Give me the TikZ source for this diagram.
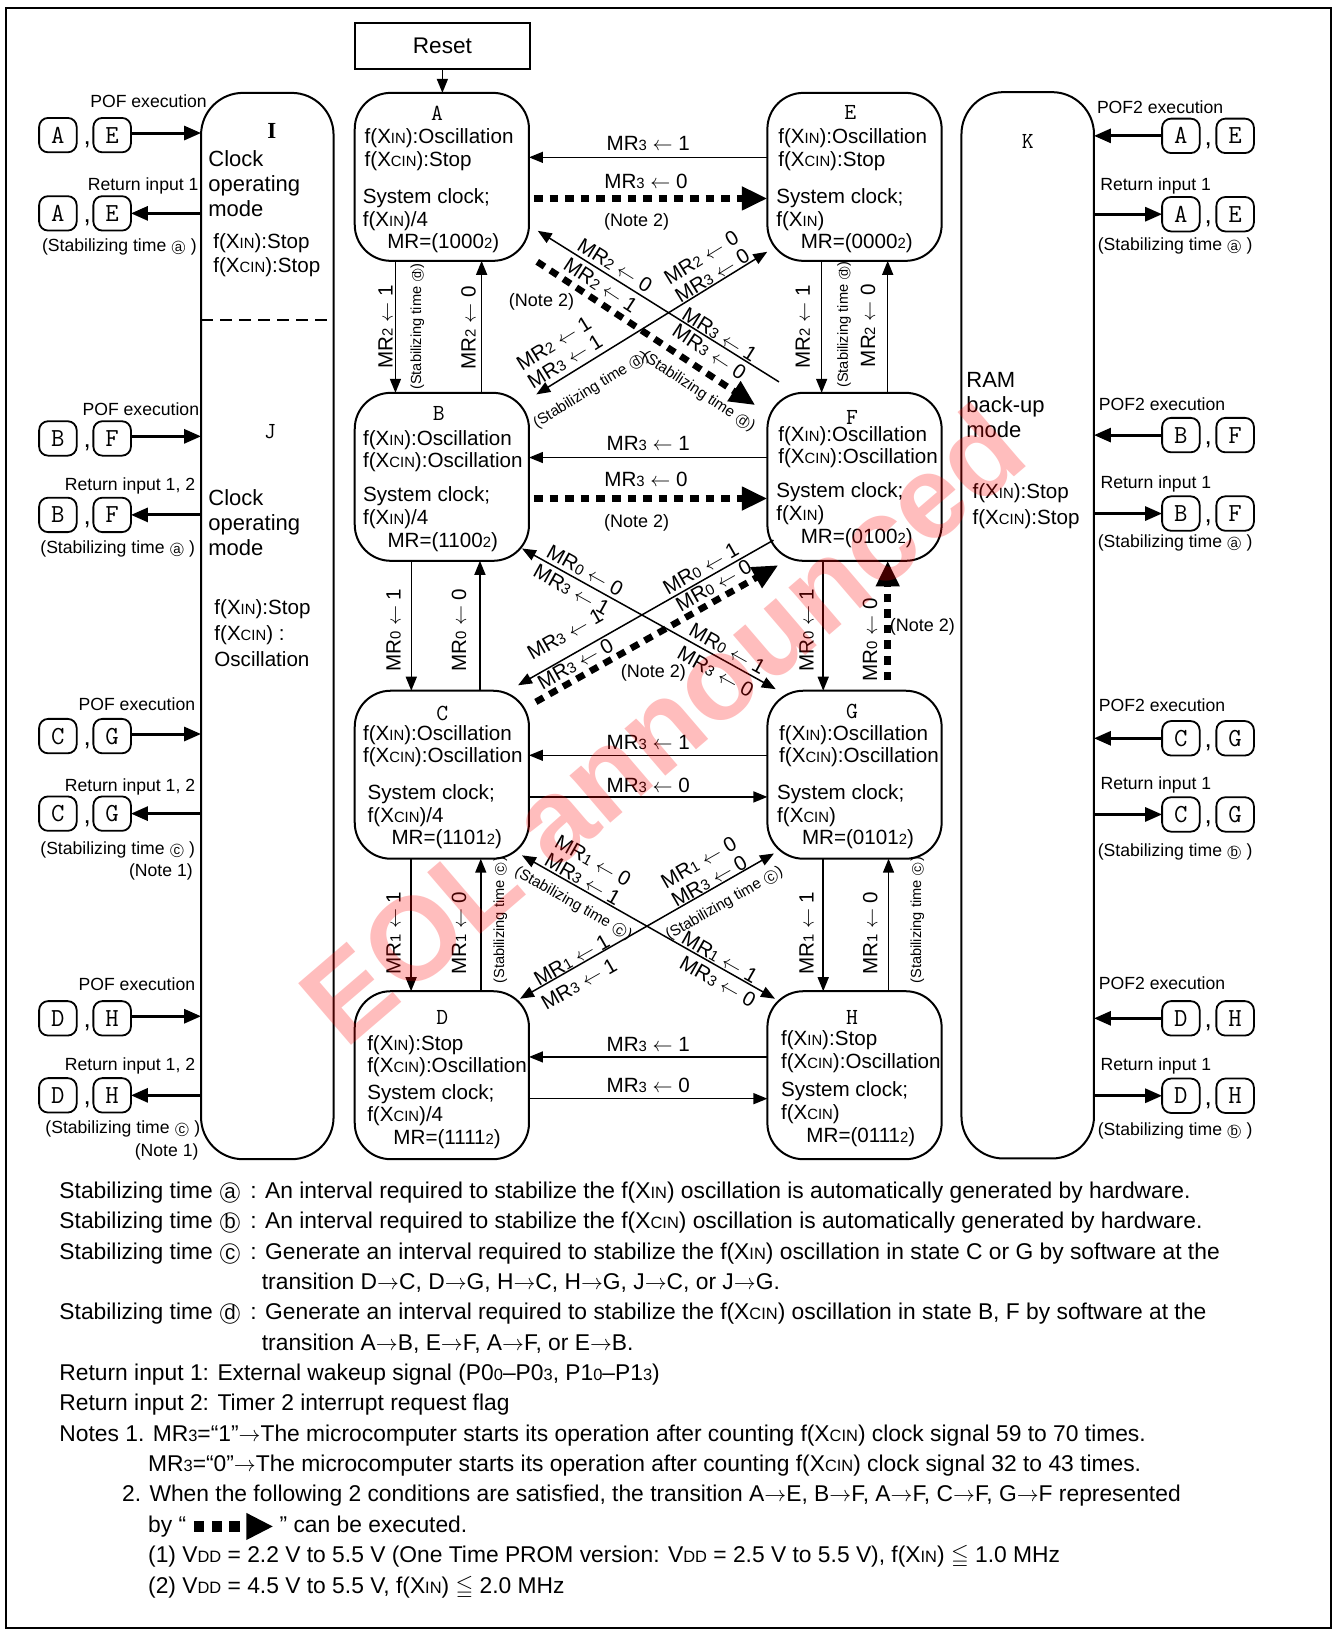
\documentclass[tikz,border=0pt]{standalone}
\usepackage{fontspec}
\usepackage{amssymb}
\usepackage{graphicx}
\setmainfont{Liberation Sans}
\newfontfamily\tmsfont{Liberation Serif}
\usetikzlibrary{calc,arrows.meta}
\newcommand\sm[1]{\scalebox{0.72}{#1}}
\newcommand\xin{X\sm{IN}}
\newcommand\xcin{X\sm{CIN}}
\newcommand\vdd{V\sm{DD}}
\newcommand\mr[1]{MR\sm{#1}}
\newcommand\lar{$\leftarrow$}
\newcommand\rar{$\rightarrow$}
\newcommand\cirg[3]{{\ooalign{\hfil#3\hfil\cr\raisebox{#2}{\scalebox{#1}{$\bigcirc$}}\cr}}}
\newcommand\cir[1]{\cirg{1}{0pt}{\scalebox{0.9}{#1}}}
\newcommand\cis[1]{\cirg{0.8}{0pt}{\scalebox{0.75}{#1}}}
\newcommand\cim[1]{\cirg{0.9}{0pt}{\scalebox{0.85}{#1}}}
\newcommand\fA{\fontsize{10.3pt}{11.3pt}\selectfont}
\newcommand\fL{\fontsize{10.3pt}{10.6pt}\selectfont}
\newcommand\fS{\fontsize{8.8pt}{10pt}\selectfont}
\newcommand\fT{\fontsize{7.3pt}{8pt}\selectfont}
\newcommand\fD{\fontsize{7.6pt}{8pt}\selectfont}
\newcommand\fN{\fontsize{9pt}{10pt}\selectfont}
\newcommand\fP{\fontsize{11pt}{12.5pt}\selectfont}
\newcommand\fB{\fontsize{11.4pt}{15pt}\selectfont}
\begin{document}
\begin{tikzpicture}[x=0.5215pt,y=-0.5215pt,
  every node/.style={inner sep=0pt,outer sep=0pt},
  stt/.style={draw,line width=1pt,rounded corners=18pt,minimum width=167*0.5215pt,minimum height=161*0.5215pt},
  pil/.style={draw,line width=1pt,rounded corners=21pt,minimum width=127*0.5215pt,minimum height=1022*0.5215pt},
  mbox/.style={draw,line width=0.9pt,rounded corners=4.5pt,minimum width=36*0.5215pt,minimum height=33*0.5215pt,font=\ttfamily\fontsize{13pt}{13pt}\selectfont},
  cma/.style={anchor=base,font=\fontsize{13pt}{13pt}\selectfont},
  ltr/.style={font=\ttfamily\fontsize{11.5pt}{12pt}\selectfont},
  cn/.style={line width=0.75pt,-{Triangle[length=7pt,width=5.5pt]}},
  cnn/.style={line width=0.75pt,{Triangle[length=7pt,width=5.5pt]}-{Triangle[length=7pt,width=5.5pt]}},
  dcn/.style={line width=3.3pt,dash pattern=on 4.35pt off 3.45pt,-{Triangle[length=12.8pt,width=11.2pt]}},
  sd/.style={line width=1.5pt,-{Triangle[length=8.5pt,width=7pt]}},
  lb/.style={font=\fA},
  tx/.style={anchor=base west,font=\fA,align=left},
  sl/.style={font=\fA,sloped},
  vl/.style={font=\fA,rotate=90},
  vs/.style={font=\fT,rotate=90},
  sx/.style={font=\fS},
]
\useasboundingbox (0,0) rectangle (1280,1568);
\draw[line width=0.9pt] (5.8,8) rectangle (1275.8,1560);

% Reset
\node[draw,line width=1pt,minimum width=168*0.5215pt,minimum height=44*0.5215pt,font=\fontsize{11.3pt}{12pt}\selectfont] (R) at (424,44) {Reset};

% states
\node[stt] (A) at (423.5,169.5) {};
\node[stt] (E) at (819,169.5) {};
\node[stt] (B) at (423.5,457) {};
\node[stt] (F) at (819,457) {};
\node[stt] (C) at (423.5,742.5) {};
\node[stt] (G) at (819,742.5) {};
\node[stt] (D) at (423.5,1030.5) {};
\node[stt] (H) at (819,1030.5) {};
\draw[cn] (R.south) -- (R.south |- A.north);

\node[ltr] (Al) at (418.8,108.6) {A};
\node[ltr] (El) at (814.9,107.5) {E};
\node[ltr] (Bl) at (420.5,396.3) {B};
\node[ltr] (Fl) at (816.7,400) {F};
\node[ltr] (Cl) at (423.8,684) {C};
\node[ltr] (Gl) at (816.7,682) {G};
\node[ltr] (Dl) at (423.8,974.8) {D};
\node[ltr] (Hl) at (816.7,974.8) {H};

% state texts (anchor = baseline of last line)
\node[tx] (At) at (349.5,238.3) {f(\xin):Oscillation\\f(\xcin):Stop\\[7.4pt]\hspace*{-0.9pt}System clock;\\\hspace*{-0.9pt}f(\xin)/4\\\hspace*{11.3pt}MR=(1000\sm{2})};
\node[tx] (Et) at (746,238.3) {f(\xin):Oscillation\\f(\xcin):Stop\\[7.4pt]\hspace*{-1pt}System clock;\\\hspace*{-1pt}f(\xin)\\\hspace*{11.2pt}MR=(0000\sm{2})};
\node[tx] (Bt) at (348,524.3) {f(\xin):Oscillation\\f(\xcin):Oscillation\\[5.7pt]System clock;\\f(\xin)/4\\\hspace*{12.2pt}MR=(1100\sm{2})};
\node[tx] (Ft) at (746,520.5) {f(\xin):Oscillation\\f(\xcin):Oscillation\\[5.8pt]\hspace*{-1pt}System clock;\\\hspace*{-1pt}f(\xin)\\\hspace*{11.2pt}MR=(0100\sm{2})};
\node[tx] (Ct) at (348,809.5) {f(\xin):Oscillation\\f(\xcin):Oscillation\\[6.9pt]\hspace*{2.3pt}System clock;\\\hspace*{2.3pt}f(\xcin)/4\\\hspace*{14.2pt}MR=(1101\sm{2})};
\node[tx] (Gt) at (746.8,809.5) {f(\xin):Oscillation\\f(\xcin):Oscillation\\[6.9pt]\hspace*{-1pt}System clock;\\\hspace*{-1pt}f(\xcin)\\\hspace*{11.4pt}MR=(0101\sm{2})};
\node[tx] (Dt) at (352,1097) {f(\xin):Stop\\f(\xcin):Oscillation\\[1.9pt]System clock;\\f(\xcin)/4\\\hspace*{13.1pt}MR=(1111\sm{2})};
\node[tx] (Ht) at (748.6,1094.6) {f(\xin):Stop\\f(\xcin):Oscillation\\[3.1pt]System clock;\\f(\xcin)\\\hspace*{12.7pt}MR=(0111\sm{2})};

% pillars
\node[pil] (IJ) at (256.2,600) {};
\node[pil] (K) at (985,599.3) {};
\draw[line width=0.9pt,dash pattern=on 5.8pt off 3.7pt] (IJ.west |- 0,307) -- (IJ.east |- 0,307);
\node[anchor=base,font=\tmsfont\bfseries\fontsize{11.5pt}{12pt}\selectfont] (Il) at (260.5,132.6) {I};
\node[anchor=base west,align=left,font=\fP] (It) at (199.7,207.7) {Clock\\operating\\mode};
\node[anchor=base west,align=left,font=\fontsize{10.3pt}{12.2pt}\selectfont] (It2) at (204.5,261.4) {f(\xin):Stop\\f(\xcin):Stop};
\node[ltr] (Jl) at (258.9,413.9) {J};
\node[anchor=base west,align=left,font=\fP] (Jt) at (199.7,532.1) {Clock\\operating\\mode};
\node[anchor=base west,align=left,font=\fontsize{10.3pt}{12.8pt}\selectfont] (Jt2) at (205.5,638.5) {f(\xin):Stop\\f(\xcin) :\\Oscillation};
\node[ltr] (Kl) at (985,135.8) {K};
\node[anchor=base west,align=left,font=\fP] (Kt) at (926.2,419.3) {RAM\\back-up\\mode};
\node[anchor=base west,align=left,font=\fontsize{10.3pt}{12.8pt}\selectfont] (Kt2) at (932.2,502.4) {f(\xin):Stop\\f(\xcin):Stop};

% left side groups
\foreach \k/\p/\q/\yp/\yr in {1/A/E/129.5/204.5,2/B/F/420.2/493.5,3/C/G/705.5/779.8,4/D/H/976/1049.8}{
  \node[mbox] (lpa\k) at (55.5,\yp) {\p};
  \node[cma] (lpc\k) at (83.5,\yp+9) {,};
  \node[mbox] (lpb\k) at (107.5,\yp) {\q};
  \coordinate (lpy\k) at (0,\yp-2);
  \draw[sd] (lpb\k.east |- lpy\k) -- (IJ.west |- lpy\k);
  \node[mbox] (lra\k) at (55.5,\yr) {\p};
  \node[cma] (lrc\k) at (83.5,\yr+9) {,};
  \node[mbox] (lrb\k) at (107.5,\yr) {\q};
  \draw[sd] (IJ.west |- lrb\k.east) -- (lrb\k.east);
}
\node[sx,anchor=base east] (lp1) at (198.2,102.9) {POF execution};
\node[sx,anchor=base east] (lr1) at (190.2,182.2) {Return input 1};
\node[sx,anchor=base east] (ls1) at (188.6,241.3) {(Stabilizing time \cis{a} )};
\node[sx,anchor=base east] (lp2) at (190.8,397.9) {POF execution};
\node[sx,anchor=base east] (lr2) at (187,469.8) {Return input 1, 2};
\node[sx,anchor=base east] (ls2) at (187,530.5) {(Stabilizing time \cis{a} )};
\node[sx,anchor=base east] (lp3) at (187,680.7) {POF execution};
\node[sx,anchor=base east] (lr3) at (187,758.4) {Return input 1, 2};
\node[sx,anchor=base east] (ls3) at (187,818.8) {(Stabilizing time \cis{c} )};
\node[sx,anchor=base east] (ln3) at (184.7,839.9) {(Note 1)};
\node[sx,anchor=base east] (lp4) at (187,949.2) {POF execution};
\node[sx,anchor=base east] (lr4) at (187,1025.9) {Return input 1, 2};
\node[sx,anchor=base east] (ls4) at (191.8,1086.6) {(Stabilizing time \cis{c} )};
\node[sx,anchor=base east] (ln4) at (190.2,1108.3) {(Note 1)};

% right side groups
\foreach \k/\p/\q/\yp/\yr in {1/A/E/130.2/205.3,2/B/F/417/492.2,3/C/G/707.6/780.6,4/D/H/976/1050.2}{
  \node[mbox] (rpa\k) at (1131.8,\yp) {\p};
  \node[cma] (rpc\k) at (1158,\yp+9) {,};
  \node[mbox] (rpb\k) at (1183.8,\yp) {\q};
  \draw[sd] (rpa\k.west) -- (K.east |- rpa\k.west);
  \node[mbox] (rra\k) at (1131.8,\yr) {\p};
  \node[cma] (rrc\k) at (1158,\yr+9) {,};
  \node[mbox] (rrb\k) at (1183.8,\yr) {\q};
  \draw[sd] (K.east |- rra\k.west) -- (rra\k.west);
}
\node[sx,anchor=base west] (rp1) at (1051.4,108.7) {POF2 execution};
\node[sx,anchor=base west] (rr1) at (1054.6,182.2) {Return input 1};
\node[sx,anchor=base west] (rs1) at (1052.2,239.7) {(Stabilizing time \cis{a} )};
\node[sx,anchor=base west] (rp2) at (1053.3,393.1) {POF2 execution};
\node[sx,anchor=base west] (rr2) at (1054.8,468.2) {Return input 1};
\node[sx,anchor=base west] (rs2) at (1052.2,524.8) {(Stabilizing time \cis{a} )};
\node[sx,anchor=base west] (rp3) at (1053.3,681.7) {POF2 execution};
\node[sx,anchor=base west] (rr3) at (1054.8,756.8) {Return input 1};
\node[sx,anchor=base west] (rs3) at (1052.2,820.7) {(Stabilizing time \cis{b} )};
\node[sx,anchor=base west] (rp4) at (1053.3,948.5) {POF2 execution};
\node[sx,anchor=base west] (rr4) at (1054.8,1025.9) {Return input 1};
\node[sx,anchor=base west] (rs4) at (1052.2,1088.2) {(Stabilizing time \cis{b} )};

% horizontal connectors
\draw[cn] (E.west |- 0,150.8) -- (A.east |- 0,150.8) node[midway,above=3.3pt,lb] (h1) {\mr{3} \lar{} 1};
\draw[dcn] ($(A.east |- 0,190.2)+(4.7,0)$) -- (E.west |- 0,190.2)
  node[pos=0.48,above=5pt,lb] (h2) {\mr{3} \lar{} 0}
  node[pos=0.44,below=7.5pt,font=\fN] (h2n) {(Note 2)};
\draw[cn] (F.west |- 0,438.5) -- (B.east |- 0,438.5) node[midway,above=3.5pt,lb] (h3) {\mr{3} \lar{} 1};
\draw[dcn] ($(B.east |- 0,477.8)+(4.7,0)$) -- (F.west |- 0,477.8)
  node[pos=0.48,above=5.8pt,lb] (h4) {\mr{3} \lar{} 0}
  node[pos=0.44,below=8pt,font=\fN] (h4n) {(Note 2)};
\draw[cn] (G.west |- 0,723.9) -- (C.east |- 0,723.9) node[midway,above=2.6pt,lb] (h5) {\mr{3} \lar{} 1};
\draw[cn] (C.east |- 0,763.8) -- (G.west |- 0,763.8) node[midway,above=2pt,lb] (h6) {\mr{3} \lar{} 0};
\draw[cn] (H.west |- 0,1013) -- (D.east |- 0,1013) node[midway,above=2.9pt,lb] (h7) {\mr{3} \lar{} 1};
\draw[cn] (D.east |- 0,1053) -- (H.west |- 0,1053) node[midway,above=2.8pt,lb] (h8) {\mr{3} \lar{} 0};

% vertical connectors
\draw[cn] (A.south -| 379,0) -- (B.north -| 379,0);
\draw[cn] (B.north -| 461.6,0) -- (A.south -| 461.6,0);
\draw[cn] (E.south -| 787.5,0) -- (F.north -| 787.5,0);
\draw[cn] (F.north -| 850.8,0) -- (E.south -| 850.8,0);
\draw[cn] (B.south -| 394.2,0) -- (C.north -| 394.2,0);
\draw[cn] (C.north -| 460,0) -- (B.south -| 460,0);
\draw[cn] (F.south -| 789,0) -- (G.north -| 789,0);
\draw[dcn] ($(G.north -| 850.8,0)+(0,-10)$) -- (F.south -| 850.8,0);
\draw[cn] (C.south -| 394,0) -- (D.north -| 394,0);
\draw[cn] (D.north -| 460.8,0) -- (C.south -| 460.8,0);
\draw[cn] (G.south -| 789,0) -- (H.north -| 789,0);
\draw[cn] (H.north -| 851.6,0) -- (G.south -| 851.6,0);

\node[vl] (v1) at (369.6,313) {\mr{2} \lar{} 1};
\node[vs] (v1s) at (399.9,313) {(Stabilizing time \cim{d})};
\node[vl] (v2) at (449,314) {\mr{2} \lar{} 0};
\node[vl] (v3) at (769.4,313) {\mr{2} \lar{} 1};
\node[vs] (v3s) at (809,311) {(Stabilizing time \cim{d})};
\node[vl] (v4) at (831.9,312) {\mr{2} \lar{} 0};
\node[vl] (v5) at (377.2,604) {\mr{0} \lar{} 1};
\node[vl] (v6) at (440,604) {\mr{0} \lar{} 0};
\node[vl] (v7) at (773,604) {\mr{0} \lar{} 1};
\node[vl] (v8) at (833.8,613) {\mr{0} \lar{} 0};
\node[font=\fN] (n2b) at (884,601) {(Note 2)};
\node[vl] (v9) at (377.2,894.5) {\mr{1} \lar{} 1};
\node[vl] (v10) at (440,894.5) {\mr{1} \lar{} 0};
\node[vs] (v10s) at (479.5,882) {(Stabilizing time \cim{c})};
\node[vl] (v11) at (773,894.5) {\mr{1} \lar{} 1};
\node[vl] (v12) at (834,894.5) {\mr{1} \lar{} 0};
\node[vs] (v12s) at (879.3,882) {(Stabilizing time \cim{c})};

% diagonal connectors
\draw[cn] ($(F.north west)+(11.1,-10.5)$) -- ($(A.south east)+(8.4,-28.8)$)
  node[sl,pos=0.264,above=0.6pt] (d1a) {\mr{3} \lar{} 1}
  node[sl,pos=0.706,above=2.3pt] (d1b) {\mr{2} \lar{} 0};
\draw[dcn] ($(A.south east)+(7.9,0.9)$) -- ($(F.north west)+(-11.6,11.8)$)
  node[sl,pos=0.253,above=4pt] (d2a) {\mr{2} \lar{} 1}
  node[sl,pos=0.741,above=6pt] (d2b) {\mr{3} \lar{} 0}
  node[sl,pos=0.79,below=6.5pt,font=\fD] (d2c) {(Stabilizing time \cim{d})};
\node[font=\fN] (n2a) at (519,289) {(Note 2)};
\draw[cnn] ($(B.north east)+(7,1.5)$) -- ($(E.south west)+(-0.1,-8.7)$)
  node[sl,pos=0.154,above=3pt,align=center,font=\fL] (d3a) {\mr{2} \lar{} 1\\\mr{3} \lar{} 1}
  node[sl,pos=0.782,above=0.7pt,align=center,font=\fL] (d3b) {\mr{2} \lar{} 0\\\mr{3} \lar{} 0}
  node[sl,pos=0.18,below=9pt,font=\fD] (d3c) {(Stabilizing time \cim{d})};
\draw[cnn] ($(B.south east)+(-6.7,-11.8)$) -- ($(G.north west)+(8,-1.5)$)
  node[sl,pos=0.227,above=2pt] (d4a) {\mr{0} \lar{} 0}
  node[sl,pos=0.219,below=2.5pt] (d4b) {\mr{3} \lar{} 1}
  node[sl,pos=0.787,above=2.3pt] (d4c) {\mr{0} \lar{} 1}
  node[sl,pos=0.79,below=3.3pt] (d4d) {\mr{3} \lar{} 0};
\draw[cn] ($(F.south west)+(5.8,-19.8)$) -- ($(C.north east)+(-10.5,-5.2)$)
  node[sl,pos=0.263,above=2pt] (d5a) {\mr{0} \lar{} 1}
  node[sl,pos=0.775,above=7pt] (d5b) {\mr{3} \lar{} 1};
\draw[dcn] ($(C.north east)+(6.6,10.7)$) -- ($(F.south west)+(10.5,4.2)$)
  node[sl,pos=0.762,above=3.4pt] (d6a) {\mr{0} \lar{} 0}
  node[sl,pos=0.191,above=3.3pt] (d6b) {\mr{3} \lar{} 0};
\node[font=\fN] (n2c) at (626.2,644.9) {(Note 2)};
\draw[cnn] ($(D.north east)+(-8.6,7.2)$) -- ($(G.south west)+(6.3,-5)$)
  node[sl,pos=0.219,above=0.5pt] (d7a) {\mr{1} \lar{} 1}
  node[sl,pos=0.2,below=4.6pt] (d7b) {\mr{3} \lar{} 1}
  node[sl,pos=0.761,above=0.5pt,align=center,font=\fL] (d7c) {\mr{1} \lar{} 0\\\mr{3} \lar{} 0}
  node[sl,pos=0.768,below=6pt,font=\fD] (d7d) {(Stabilizing time \cim{c})};
\draw[cnn] ($(C.south east)+(-6.7,-3.2)$) -- ($(H.north west)+(7.3,7.2)$)
  node[sl,pos=0.222,above=1pt,align=center,font=\fL] (d8a) {\mr{1} \lar{} 0\\\mr{3} \lar{} 1}
  node[sl,pos=0.236,below=5pt,font=\fD] (d8b) {(Stabilizing time \cim{c})}
  node[sl,pos=0.764,above=1pt] (d8c) {\mr{1} \lar{} 1}
  node[sl,pos=0.8,below=3pt] (d8d) {\mr{3} \lar{} 0};

% bottom text
\begin{scope}[every node/.append style={anchor=base west,font=\fB}]
\node (b0) at (57,1148.5) {Stabilizing time \cir{a}};
\node (b0b) at (240,1148.5) {: An interval required to stabilize the f(\xin) oscillation is automatically generated by hardware.};
\node (b1) at (57,1177.6) {Stabilizing time \cir{b}};
\node (b1b) at (240,1177.6) {: An interval required to stabilize the f(\xcin) oscillation is automatically generated by hardware.};
\node (b2) at (57,1206.7) {Stabilizing time \cir{c}};
\node (b2b) at (240,1206.7) {: Generate an interval required to stabilize the f(\xin) oscillation in state C or G by software at the};
\node (b3) at (251,1235.8) {transition D\rar{}C, D\rar{}G, H\rar{}C, H\rar{}G, J\rar{}C, or J\rar{}G.};
\node (b4) at (57,1264.9) {Stabilizing time \cir{d}};
\node (b4b) at (240,1264.9) {: Generate an interval required to stabilize the f(\xcin) oscillation in state B, F by software at the};
\node (b5) at (251,1294) {transition A\rar{}B, E\rar{}F, A\rar{}F, or E\rar{}B.};
\node (b6) at (57,1323.1) {Return input 1: External wakeup signal (P0\sm{0}--P0\sm{3}, P1\sm{0}--P1\sm{3})};
\node (b7) at (57,1352.2) {Return input 2: Timer 2 interrupt request flag};
\node (b8) at (57,1381.3) {Notes 1. \mr{3}=“1”\rar{}The microcomputer starts its operation after counting f(\xcin) clock signal 59 to 70 times.};
\node (b9) at (142,1410.4) {\mr{3}=“0”\rar{}The microcomputer starts its operation after counting f(\xcin) clock signal 32 to 43 times.};
\node (b10) at (117,1439.5) {2. When the following 2 conditions are satisfied, the transition A\rar{}E, B\rar{}F, A\rar{}F, C\rar{}F, G\rar{}F represented};
\node (b11) at (142,1468.6) {by “};
\node (b11b) at (268,1468.6) {” can be executed.};
\node (b12) at (142,1497.7) {(1) \vdd{} = 2.2 V to 5.5 V (One Time PROM version: \vdd{} = 2.5 V to 5.5 V), f(\xin) $\leqq$ 1.0 MHz};
\node (b13) at (142,1526.8) {(2) \vdd{} = 4.5 V to 5.5 V, f(\xin) $\leqq$ 2.0 MHz};
\end{scope}
\draw[line width=5.2pt,dash pattern=on 5.2pt off 3.65pt,-{Triangle[length=13.5pt,width=12.5pt]}] ($(b11.base west)+(44,-5.6)$) -- ($(b11b.base west)+(-6,-5.6)$);

% watermark
\node[rotate=40.6,font=\bfseries\fontsize{59pt}{59pt}\selectfont,text=red,text opacity=0.26] (wm) at (634,694) {EOL announced};
\end{tikzpicture}
\end{document}
